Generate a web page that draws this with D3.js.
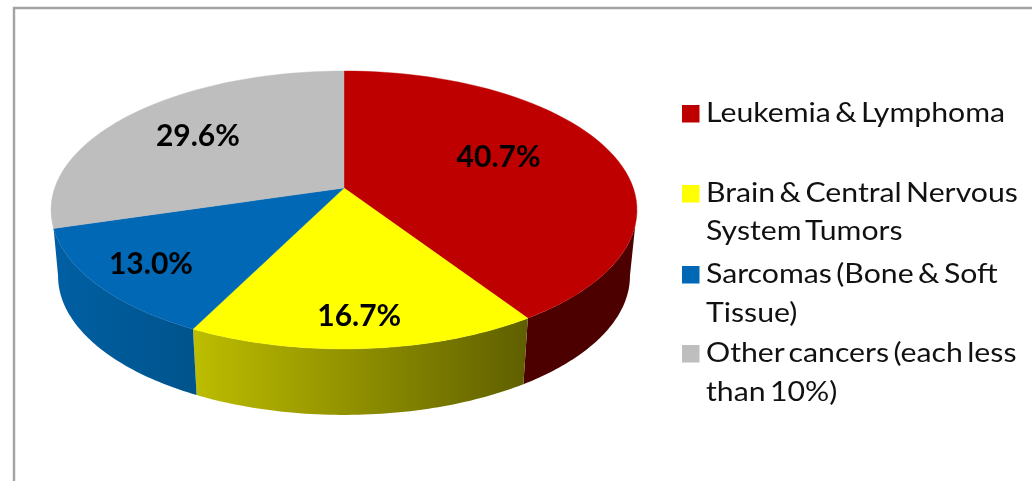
<!DOCTYPE html>
<html><head><meta charset="utf-8">
<script src="https://cdnjs.cloudflare.com/ajax/libs/d3/7.8.5/d3.min.js"></script>
<style>html,body{margin:0;padding:0;background:#fff;overflow:hidden}svg{display:block;filter:blur(0.6px)}</style>
</head><body><svg id="c" width="1032" height="481"></svg>
<script>
// Data
const categories = ["Leukemia & Lymphoma","Brain & Central Nervous System Tumors","Sarcomas (Bone & Soft Tissue)","Other cancers (each less than 10%)"];
const values = [40.7,16.7,13.0,29.6];
const legendLines = [["Leukemia & Lymphoma"],["Brain & Central Nervous","System Tumors"],["Sarcomas (Bone & Soft","Tissue)"],["Other cancers (each less","than 10%)"]];
const topColors = ["#BF0000","#FFFF00","#0068B5","#BEBEBE"];
const sideFrom = ["#4C0000","#BDBD00","#005FA3",null];
const sideTo = ["#4C0000","#5F5F00","#00548C",null];

// Layout
const W=1032,H=481,cx=344,cy=188,B=289.3,A=135.5,persp=0.158,sx=0.976,sy=1,depth=66;
const labelRadius=[0.58,0.82,0.8,0.67], labelNudge=[[-2,-10],[-1,0],[0,-1],[0,-2]];
const legendBaselines=[[122],[202,240],[283,322],[362,401]];
const legendX=706, legendStretch=1.12;
const deg=Math.PI/180, rightEdge=105*deg, rightLow=99*deg, leftLow=261*deg;

const svg=d3.select("#c");
svg.append("path").attr("d",`M14,${H+2}V8H${W+2}`).attr("fill","none").attr("stroke","#a2a2a2").attr("stroke-width",2.4);

const pie=d3.pie().sort(null).value(d=>d).startAngle(0).endAngle(2*Math.PI);
const arcs=pie(values);
const project=(a,r=1)=>{const u=Math.sin(a)*r,v=Math.cos(a)*r,d=1+persp*v;return [cx+B*u/d,cy-A*v/d];};
const lower=(a)=>{const [x,y]=project(a);return [cx+(x-cx)*sx,cy+(y-cy)*sy+depth];};
const line=d3.line();
const rim=(a0,a1,f)=>d3.range(0,61).map(i=>f(a0+(a1-a0)*i/60));
const defs=svg.append("defs");

// Side walls: visible only on the near half of the pie
const sideSpan=[[rightEdge,arcs[0].endAngle,rightLow],[arcs[1].startAngle,arcs[1].endAngle,null],[arcs[2].startAngle,arcs[2].endAngle,leftLow]];
sideSpan.forEach((s,i)=>{
  const [a0,a1,low]=s;
  const p0=project(a0),p1=project(a1);
  const xs=[p0[0],p1[0]];
  const g=defs.append("linearGradient").attr("id","g"+i).attr("gradientUnits","userSpaceOnUse")
    .attr("x1",Math.min(...xs)).attr("x2",Math.max(...xs)).attr("y1",0).attr("y2",0);
  g.append("stop").attr("offset",0).attr("stop-color",sideFrom[i]);
  g.append("stop").attr("offset",1).attr("stop-color",sideTo[i]);
  const la0=i===0?low:a0, la1=i===2?low:a1;
  const pts=rim(a0,a1,project).concat(rim(la1,la0,lower));
  svg.append("path").attr("d",line(pts)+"Z").attr("fill",`url(#g${i})`);
});

// Top face
arcs.forEach((d,i)=>{
  const pts=[[cx,cy]].concat(rim(d.startAngle,d.endAngle,project));
  svg.append("path").attr("d",line(pts)+"Z").attr("fill",topColors[i]).attr("stroke",topColors[i]).attr("stroke-width",0.4);
});

// Value labels
arcs.forEach((d,i)=>{
  const [x,y]=project((d.startAngle+d.endAngle)/2,labelRadius[i]);
  svg.append("text").attr("x",x+labelNudge[i][0]).attr("y",y+labelNudge[i][1]).attr("dy","0.36em")
    .attr("text-anchor","middle").attr("font-family","Lato").attr("font-weight",700).attr("font-size",30)
    .attr("fill","#000").text(d3.format(".1f")(values[i])+"%");
});

// Legend
categories.forEach((c,i)=>{
  svg.append("rect").attr("x",682).attr("y",legendBaselines[i][0]-17).attr("width",17.5).attr("height",17.5).attr("fill",topColors[i]);
  legendLines[i].forEach((t,j)=>{
    svg.append("text").attr("transform",`translate(${legendX},${legendBaselines[i][j]}) scale(${legendStretch},1)`)
      .attr("font-family","Lato").attr("font-size",27).attr("word-spacing",-3).attr("fill","#111").text(t);
  });
});
</script></body></html>
